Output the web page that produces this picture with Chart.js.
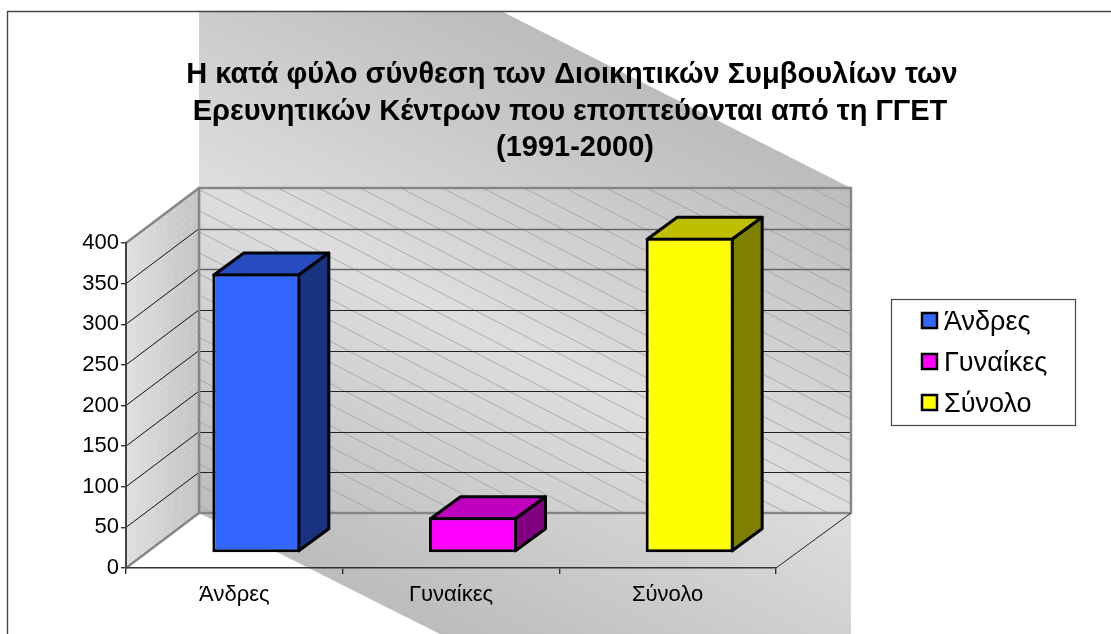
<!DOCTYPE html>
<html>
<head>
<meta charset="utf-8">
<title>Διοικητικά Συμβούλια</title>
<script src="https://cdn.jsdelivr.net/npm/chart.js@4/dist/chart.umd.min.js"></script>
<style>
  html, body { margin: 0; padding: 0; background: #fff; overflow: hidden; }
  canvas { display: block; }
</style>
</head>
<body>
<canvas id="chart" width="1111" height="634"></canvas>
<script>
const titleLines = [
    'Η κατά φύλο σύνθεση των Διοικητικών Συμβουλίων των',
    'Ερευνητικών Κέντρων που εποπτεύονται από τη ΓΓΕΤ',
    '(1991-2000)'
];
const categories = ['Άνδρες', 'Γυναίκες', 'Σύνολο'];
const boardMembers = [344, 44, 388];
const yMax = 400;
const yStep = 50;

const frontColors = ['#3366ff', '#ff00ff', '#ffff00'];
const topColors = ['#264cbf', '#bf00bf', '#bfbf00'];
const sideColors = ['#1a3380', '#800080', '#808000'];

// oblique projection of the chart box, in pixels
const WALL_DX = 73;
const WALL_DX_RIGHT = 75;
const WALL_DY = -55;
const BAR_DX = 22;
const BAR_DY = -15;
const BAR_DEPTH_X = 30;
const BAR_DEPTH_Y = -22;
const BAR_BORDER = 3;

function poly(ctx, pts) {
    ctx.beginPath();
    pts.forEach((p, i) => i ? ctx.lineTo(p[0], p[1]) : ctx.moveTo(p[0], p[1]));
    ctx.closePath();
}

function line(ctx, x1, y1, x2, y2, color, width) {
    ctx.strokeStyle = color;
    ctx.lineWidth = width;
    ctx.beginPath();
    ctx.moveTo(x1, y1);
    ctx.lineTo(x2, y2);
    ctx.stroke();
}

const boxPlugin = {
    id: 'box3d',
    beforeDraw(chart) {
        const { ctx, chartArea: area, scales: { y } } = chart;
        const backL = area.left + WALL_DX;
        const backR = area.right + WALL_DX_RIGHT;
        const backT = area.top + WALL_DY;
        const backB = area.bottom + WALL_DY;
        ctx.save();

        // grey sheet behind everything, its gradient runs across the diagonal
        const sheet = ctx.createLinearGradient(851, 187, 590, 709);
        sheet.addColorStop(0, '#bcbcbc');
        sheet.addColorStop(0.5, '#dedede');
        sheet.addColorStop(1, '#bcbcbc');
        ctx.fillStyle = sheet;
        poly(ctx, [[backL, 12], [503, 12], [backR, backT], [backR, 634], [440, 634], [backL, backB]]);
        ctx.fill();

        // hatching on the back wall
        ctx.save();
        ctx.beginPath();
        ctx.rect(backL, backT, backR - backL, backB - backT);
        ctx.clip();
        for (let x = backL - 700; x < backR; x += 41) {
            line(ctx, x, backT, x + 700, backT + 360, '#a2a2a2', 0.8);
        }
        ctx.restore();

        // back wall grid
        for (let v = yStep; v < yMax; v += yStep) {
            const py = Math.round(y.getPixelForValue(v) + WALL_DY) + 0.5;
            if (v >= 300) line(ctx, backL, py, backR, py, '#666', 1.6);
            else line(ctx, backL, py, backR, py, '#222', 1);
        }
        ctx.strokeStyle = '#858585';
        ctx.lineWidth = 2.4;
        ctx.strokeRect(backL, backT, backR - backL, backB - backT);

        // side wall
        const wall = ctx.createLinearGradient(area.left, 0, backL, 0);
        wall.addColorStop(0, '#e0e0e0');
        wall.addColorStop(1, '#c4c4c4');
        ctx.fillStyle = wall;
        poly(ctx, [[area.left, area.top], [backL, backT], [backL, backB], [area.left, area.bottom]]);
        ctx.fill();
        ctx.save();
        poly(ctx, [[area.left, area.top], [backL, backT], [backL, backB], [area.left, area.bottom]]);
        ctx.clip();
        ctx.setLineDash([2, 5]);
        for (let x = area.left + 4; x < backL + 15; x += 9) {
            line(ctx, x, backT, x - 15, area.bottom, 'rgba(255,255,255,0.35)', 1);
        }
        ctx.restore();
        for (let v = yStep; v < yMax; v += yStep) {
            const py = y.getPixelForValue(v);
            line(ctx, area.left, py, backL, py + WALL_DY, '#111', 1);
        }
        line(ctx, area.left, area.top, backL, backT, '#858585', 2.4);
        line(ctx, area.left, area.bottom, backL, backB, '#858585', 2.4);
        line(ctx, backL, backT, backL, backB, '#858585', 2.4);

        // floor edge on the right
        line(ctx, area.right, area.bottom, backR, backB, '#222', 1);
        ctx.restore();
    },
    beforeDatasetDraw(chart, args) {
        const { ctx } = chart;
        const meta = chart.getDatasetMeta(args.index);
        const inset = BAR_BORDER / 2;
        ctx.save();
        ctx.translate(BAR_DX, BAR_DY);
        ctx.lineJoin = 'round';
        ctx.strokeStyle = '#000';
        ctx.lineWidth = BAR_BORDER;
        meta.data.forEach((bar, i) => {
            const props = bar.getProps(['x', 'y', 'base', 'width'], true);
            const l = props.x - props.width / 2 + inset;
            const r = props.x + props.width / 2 - inset;
            const t = props.y + inset;
            const b = props.base - inset;
            poly(ctx, [[l, t], [l + BAR_DEPTH_X, t + BAR_DEPTH_Y], [r + BAR_DEPTH_X, t + BAR_DEPTH_Y], [r, t]]);
            ctx.fillStyle = topColors[i];
            ctx.fill();
            ctx.stroke();
            poly(ctx, [[r, t], [r + BAR_DEPTH_X, t + BAR_DEPTH_Y], [r + BAR_DEPTH_X, b + BAR_DEPTH_Y], [r, b]]);
            ctx.fillStyle = sideColors[i];
            ctx.fill();
            ctx.stroke();
        });
    },
    afterDatasetDraw(chart) {
        chart.ctx.restore();
    },
    afterDraw(chart) {
        const { ctx } = chart;
        ctx.save();

        // outer frame, only the left and top edges are inside the crop
        ctx.strokeStyle = '#444';
        ctx.lineWidth = 1.4;
        ctx.beginPath();
        ctx.moveTo(7.5, 634);
        ctx.lineTo(7.5, 11.5);
        ctx.lineTo(1111, 11.5);
        ctx.stroke();

        // title
        ctx.fillStyle = '#000';
        ctx.textAlign = 'center';
        ctx.textBaseline = 'alphabetic';
        ctx.font = 'bold 29px "Liberation Sans"';
        ctx.fillText(titleLines[0], 572, 83);
        ctx.fillText(titleLines[1], 570, 120);
        ctx.fillText(titleLines[2], 575, 156);

        // legend
        ctx.fillStyle = '#fff';
        ctx.fillRect(891, 299, 184, 126);
        ctx.strokeStyle = '#444';
        ctx.lineWidth = 1.2;
        ctx.strokeRect(891.5, 299.5, 184, 126);
        ctx.textAlign = 'left';
        ctx.font = '27px "Liberation Sans"';
        categories.forEach((name, i) => {
            const base = 330 + i * 41;
            ctx.fillStyle = frontColors[i];
            ctx.fillRect(922, base - 17, 15, 15);
            ctx.strokeStyle = '#000';
            ctx.lineWidth = 2.5;
            ctx.strokeRect(922, base - 17, 15, 15);
            ctx.fillStyle = '#000';
            ctx.fillText(name, 944, base);
        });
        ctx.restore();
    }
};

new Chart(document.getElementById('chart'), {
    type: 'bar',
    data: {
        labels: categories,
        datasets: [{
            data: boardMembers,
            backgroundColor: frontColors,
            borderColor: '#000',
            borderWidth: BAR_BORDER,
            borderSkipped: false,
            clip: false,
            categoryPercentage: 1,
            barPercentage: 0.406
        }]
    },
    options: {
        responsive: false,
        animation: false,
        layout: { padding: { top: 243, right: 335, left: 0, bottom: 0 } },
        plugins: {
            legend: { display: false },
            title: { display: false },
            tooltip: { enabled: false }
        },
        scales: {
            x: {
                afterFit: (scale) => { scale.height = 66; },
                grid: { drawOnChartArea: false, color: '#333', lineWidth: 1.4, tickLength: 6 },
                border: { color: '#333', width: 1.6 },
                ticks: { color: '#000', font: { family: 'Liberation Sans', size: 22 }, padding: 8, maxRotation: 0, autoSkip: false }
            },
            y: {
                min: 0,
                max: yMax,
                afterFit: (scale) => { scale.width = 126; },
                grid: { drawOnChartArea: false, color: '#333', lineWidth: 1.4, tickLength: 5 },
                border: { color: '#444', width: 2 },
                ticks: { color: '#000', stepSize: yStep, font: { family: 'Liberation Sans', size: 22 }, padding: 2 }
            }
        }
    },
    plugins: [boxPlugin]
});
</script>
</body>
</html>
